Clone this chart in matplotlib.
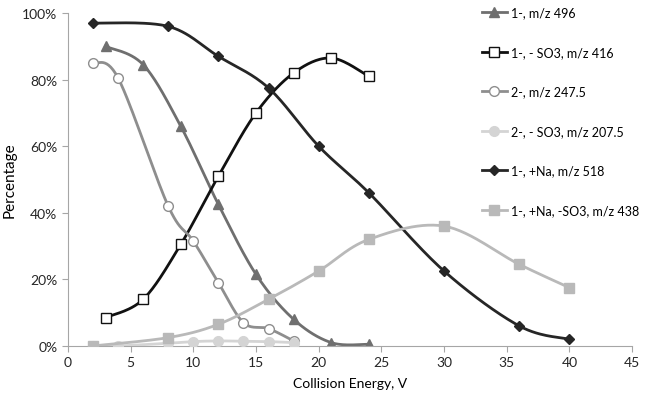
import numpy as np
import matplotlib
matplotlib.use('Agg')
import matplotlib.pyplot as plt
from matplotlib.lines import Line2D

plt.rcParams['font.family'] = ['Lato', 'DejaVu Sans']
plt.rcParams['font.size'] = 10

# dati (energia di collisione, V / percentuale)
x_496 = [3, 6, 9, 12, 15, 18, 21, 24]
y_496 = [90, 84.5, 66, 42.5, 21.5, 8, 1, 0.5]

x_416 = [3, 6, 9, 12, 15, 18, 21, 24]
y_416 = [8.5, 14, 30.5, 51, 70, 82, 86.5, 81]

x_247 = [2, 4, 8, 10, 12, 14, 16, 18]
y_247 = [85, 80.5, 42, 31.5, 19, 7, 5.2, 1.5]

x_207 = [2, 4, 8, 10, 12, 14, 16, 18]
y_207 = [0, 0, 0.8, 1.3, 1.5, 1.4, 1.3, 1.0]

x_518 = [2, 8, 12, 16, 20, 24, 30, 36, 40]
y_518 = [97, 96, 87, 77.5, 60, 46, 22.5, 6, 2]

x_438 = [2, 8, 12, 16, 20, 24, 30, 36, 40]
y_438 = [0, 2.5, 6.5, 14, 22.5, 32, 36, 24.5, 17.5]

labels = ['1-, m/z 496', '1-, - SO3, m/z 416', '2-, m/z 247.5',
          '2-, - SO3, m/z 207.5', '1-, +Na, m/z 518', '1-, +Na, -SO3, m/z 438']


def smooth(x, y, n=30):
    # linea smussata stile Excel (bezier tipo Catmull-Rom)
    p = np.column_stack([x, y]).astype(float)
    out = [p[0]]
    for i in range(len(p) - 1):
        p0 = p[i - 1] if i > 0 else p[i]
        p1, p2 = p[i], p[i + 1]
        p3 = p[i + 2] if i + 2 < len(p) else p[i + 1]
        c1 = p1 + (p2 - p0) / 6
        c2 = p2 - (p3 - p1) / 6
        t = np.linspace(0, 1, n)[1:, None]
        seg = ((1 - t) ** 3) * p1 + 3 * ((1 - t) ** 2) * t * c1 + 3 * (1 - t) * t ** 2 * c2 + t ** 3 * p2
        out.extend(seg)
    out = np.array(out)
    return out[:, 0], out[:, 1]


series = [
    (x_496, y_496, '#6f6f6f', '^', '#6f6f6f', 7),
    (x_416, y_416, '#111111', 's', 'white', 6.5),
    (x_247, y_247, '#8e8e8e', 'o', 'white', 7),
    (x_207, y_207, '#d4d4d4', 'o', '#d4d4d4', 7),
    (x_518, y_518, '#262626', 'D', '#262626', 5),
    (x_438, y_438, '#b9b9b9', 's', '#b9b9b9', 6.5),
]

fig = plt.figure(figsize=(6.47, 4.02), dpi=100)
ax = fig.add_axes([0.105, 0.137, 0.872, 0.828])

handles = []
order = [5, 3, 2, 0, 4, 1]
for k in order:
    xs, ys, col, mk, fc, ms = series[k]
    sx, sy = smooth(xs, ys)
    ax.plot(sx, sy, '-', color=col, linewidth=2, zorder=2 + k)
    ax.plot(xs, ys, linestyle='none', marker=mk, markersize=ms,
            markerfacecolor=fc, markeredgecolor=col, markeredgewidth=1, zorder=2 + k)
for k, (xs, ys, col, mk, fc, ms) in enumerate(series):
    handles.append(Line2D([], [], color=col, linewidth=2, marker=mk, markersize=ms,
                          markerfacecolor=fc, markeredgecolor=col))

ax.set_xlim(0, 45)
ax.set_ylim(0, 100)
ax.set_xticks(np.arange(0, 46, 5))
ax.set_yticks(np.arange(0, 101, 20))
ax.set_yticklabels([f'{v}%' for v in range(0, 101, 20)])
ax.set_xlabel('Collision Energy, V', labelpad=6)
ax.set_ylabel('Percentage', labelpad=4, fontsize=11)

for s in ['top', 'right']:
    ax.spines[s].set_visible(False)
for s in ['left', 'bottom']:
    ax.spines[s].set_color('#a6a6a6')
ax.tick_params(axis='both', colors='#a6a6a6', labelcolor='#262626', direction='out', length=4)

ax.legend(handles, labels, loc='upper left', bbox_to_anchor=(0.725, 1.035),
          frameon=False, labelspacing=2.2, handlelength=2.0, handletextpad=0.3,
          borderaxespad=0, fontsize=9)

fig.savefig('out.png', dpi=100)
